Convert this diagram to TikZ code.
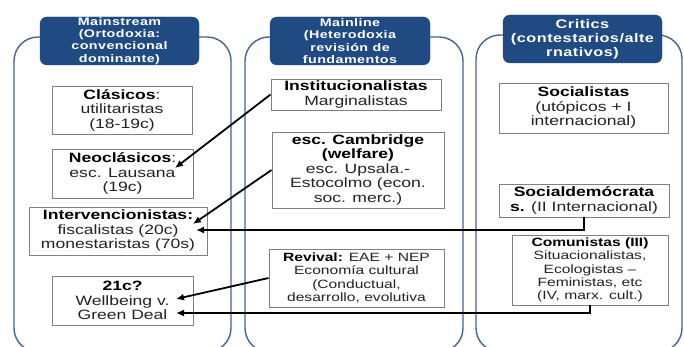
\documentclass[tikz,border=0pt]{standalone}
\usepackage{fontspec}
\setmainfont{Liberation Sans}[FakeStretch=1.3]
\newfontfamily\hdrfont{Liberation Sans}[FakeStretch=1.3,LetterSpace=4]
\usetikzlibrary{arrows.meta}
\definecolor{frameblue}{RGB}{70,100,145}
\definecolor{hdrblue}{RGB}{31,75,130}
\definecolor{boxgray}{RGB}{128,128,128}
\definecolor{txt}{RGB}{35,35,35}
\tikzset{
  container/.style={draw=frameblue, line width=1.4pt, rounded corners=24pt, inner sep=0pt},
  hdr/.style={draw=hdrblue, fill=hdrblue, rounded corners=7pt, text=white, align=center, inner sep=0pt, font=\hdrfont\bfseries\fontsize{11}{12.2}\selectfont},
  cbox/.style={draw=boxgray, fill=white, line width=0.9pt, align=center, inner sep=0pt, text=txt, font=\fontsize{13.5}{14.5}\selectfont},
  sbox/.style={cbox, font=\fontsize{12}{13.3}\selectfont},
  conn/.style={draw=black, line width=1.8pt, -{Latex[length=8pt,width=7pt]}}
}
\begin{document}
\begin{tikzpicture}[x=1pt,y=-1pt]
\useasboundingbox[fill=white] (0,0) rectangle (684,347);
% containers
\node[container, minimum width=217, minimum height=315] (c1) at (122.5,194.5) {};
\node[container, minimum width=218, minimum height=315] (c2) at (354,194.5) {};
\node[container, minimum width=206, minimum height=317] (c3) at (579,193.5) {};
% headers
\node[hdr, minimum width=159, minimum height=48] (h1) at (119.5,41) {Mainstream\\(Ortodoxia:\\convencional\\dominante)};
\node[hdr, minimum width=160, minimum height=48] (h2) at (350,41) {Mainline\\(Heterodoxia\\revisión de\\fundamentos};
\node[hdr, minimum width=159, minimum height=48, font=\hdrfont\bfseries\fontsize{12.5}{14}\selectfont] (h3) at (582.5,39) {Critics\\(contestarios/alte\\rnativos)};
% column 1
\node[cbox, minimum width=140, minimum height=48] (clas) at (122,110) {\textbf{\color{black}Clásicos}:\\utilitaristas\\(18-19c)};
\node[cbox, minimum width=141, minimum height=49] (neo) at (122.5,173.5) {\textbf{\color{black}Neoclásicos}:\\esc. Lausana\\(19c)};
\node[cbox, minimum width=178, minimum height=48] (int) at (118,231) {\textbf{\color{black}Intervencionistas:}\\fiscalistas (20c)\\monestaristas (70s)};
\node[cbox, minimum width=141, minimum height=49] (c21) at (122.5,300.5) {\textbf{\color{black}21c?}\\Wellbeing v.\\Green Deal};
% column 2
\node[cbox, minimum width=170, minimum height=31] (inst) at (356,94.5) {\textbf{\color{black}Institucionalistas}\\Marginalistas};
\node[cbox, minimum width=172, minimum height=76] (camb) at (358,170) {\textbf{\color{black}esc. Cambridge}\\\textbf{\color{black}(welfare)}\\esc. Upsala.-\\Estocolmo (econ.\\soc. merc.)};
\node[sbox, minimum width=175, minimum height=58] (rev) at (356.5,278) {\textbf{\color{black}Revival:} EAE + NEP\\Economía cultural\\(Conductual,\\desarrollo, evolutiva};
% column 3
\node[cbox, minimum width=169, minimum height=50] (socl) at (583.5,108) {\textbf{\color{black}Socialistas}\\(utópicos + I\\internacional)};
\node[cbox, minimum width=170, minimum height=33] (sd) at (584,200.5) {\textbf{\color{black}Socialdemócrata}\\\textbf{\color{black}s.} (II Internacional)};
\node[sbox, minimum width=156, minimum height=70] (com) at (590,270) {\textbf{\color{black}Comunistas (III)}\\Situacionalistas,\\Ecologistas --\\Feministas, etc\\(IV, marx. cult.)};
% arrow targets
\coordinate (t1) at (175,168);
\coordinate (t2) at (193,224);
\coordinate (t3) at (196,230);
\coordinate (t4) at (176,299);
\coordinate (t5) at (176,313);
% connectors
\draw[conn] (inst.west) -- (t1);
\draw[conn] (camb.west) -- (t2);
\draw[conn] (sd.south) |- (t3);
\draw[conn] (rev.west) -- (t4);
\draw[conn] (com.south) |- (t5);
\end{tikzpicture}
\end{document}
